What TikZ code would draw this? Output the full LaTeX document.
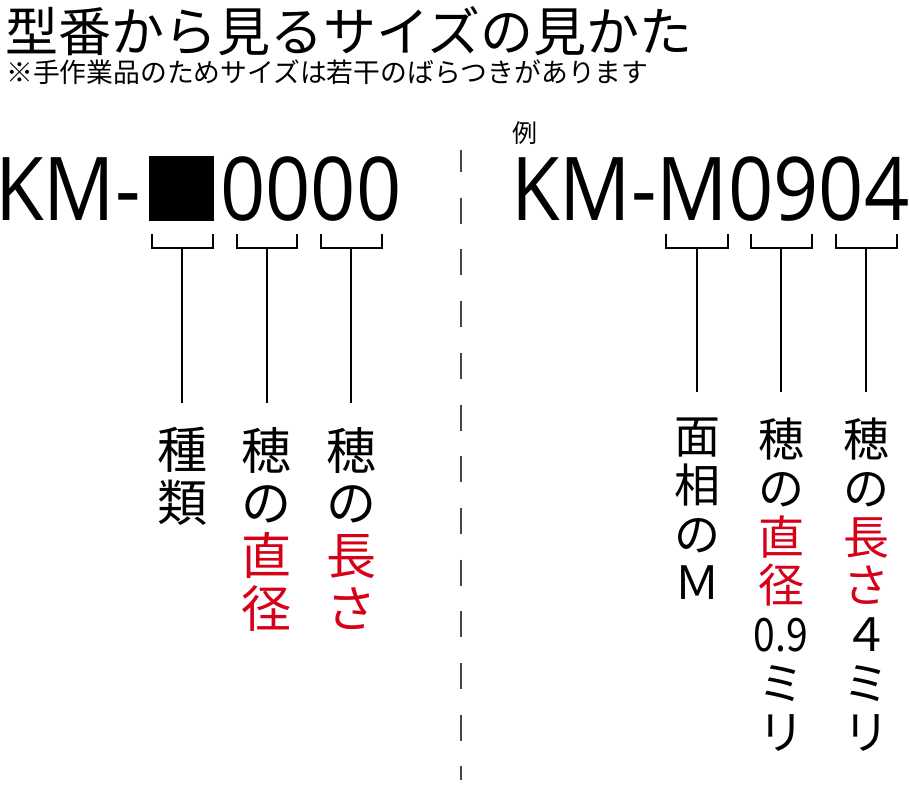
\documentclass[tikz,border=0pt]{standalone}
\usepackage{fontspec}
\setmainfont{Open Sans}
\newfontfamily\jpfont{Noto Sans CJK JP}
\definecolor{kmred}{RGB}{215,0,25}
\definecolor{sepgray}{RGB}{70,70,70}
\newcommand\kmr[1]{\textcolor{kmred}{#1}}
\newcommand\kmw[1]{\scalebox{0.9}[1]{#1}}
\tikzset{
  kmtext/.style={font=\fontsize{88}{88}\selectfont, inner sep=0, anchor=base west},
  jptitle/.style={font=\jpfont\fontsize{53}{53}\selectfont, inner sep=0, anchor=west},
  jpnote/.style={font=\jpfont\fontsize{26.8}{26.8}\selectfont, inner sep=0, anchor=west},
  tateL/.style={font=\jpfont\fontsize{50}{52.7}\selectfont, align=center, inner sep=0, anchor=north},
  tateR/.style={font=\jpfont\fontsize{46}{48.7}\selectfont, align=center, inner sep=0, anchor=north},
  brk/.style={line width=2.3pt},
  stem/.style={line width=2pt},
}
\begin{document}
\begin{tikzpicture}[x=1pt,y=-1pt]
\useasboundingbox (0,0) rectangle (909,787);

% heading
\node[jptitle] (ttl) at (5,31) {型番から見るサイズの見かた};
\node[jpnote] (nt) at (6,72.5) {※手作業品のためサイズは若干のばらつきがあります};

% left: model number
\node[kmtext] (kmL) at (-5,220.7) {\kmw{KM-}};
\node[fill, minimum size=65, inner sep=0, anchor=north west] (sq) at (148.3,156) {};
\node[kmtext] (kmLd) at (220,220.7) {\kmw{0000}};

% right: example
\node[font=\jpfont\fontsize{25}{25}\selectfont, inner sep=0] (rei) at (525,133.5) {例};
\node[kmtext] (kmR) at (511,220.7) {\kmw{KM-M0904}};

% separator
\coordinate (dtop) at (460.7,150);
\coordinate (dbot) at (460.7,780);
\draw[sepgray, line width=2pt, dash pattern=on 26 off 25.7, dash phase=4] (dtop) -- (dbot);

% brackets and stems
\foreach \n/\a/\b/\m/\e in {A/151.7/213.3/182.3/402.7, B/236.7/297.3/266.7/402.7,
  C/321/382/351/402.7, D/666/727.7/697/392.3, E/751/812.3/781/392.3, F/835.7/896.7/866/392.3}
{
  \coordinate (b\n) at (\m,248.3);
  \coordinate (e\n) at (\m,\e);
  \draw[brk] (\a,234) |- (\b,248.3) -- (\b,234);
  \draw[stem] (b\n) -- (e\n);
}

% labels
\node[tateL] (lA) at (182.3,427) {種\\類};
\node[tateL] (lB) at (266.7,427) {穂\\の\\\kmr{直}\\\kmr{径}};
\node[tateL] (lC) at (351,427) {穂\\の\\\kmr{長}\\\kmr{さ}};
\node[tateR] (lD) at (697,418) {面\\相\\の\\Ｍ};
\node[tateR] (lE) at (781,418) {穂\\の\\\kmr{直}\\\kmr{径}\\\scalebox{0.85}[1]{0.9}\\ミ\\リ};
\node[tateR] (lF) at (866,418) {穂\\の\\\kmr{長}\\\kmr{さ}\\４\\ミ\\リ};
\end{tikzpicture}
\end{document}
